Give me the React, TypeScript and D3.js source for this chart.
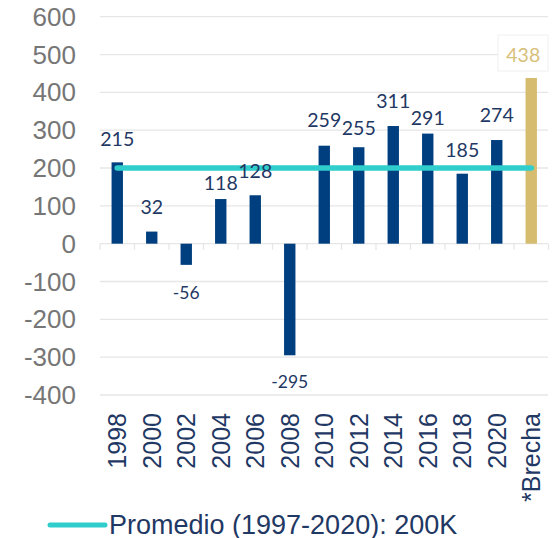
import React from 'react';
import * as d3 from 'd3';

const categories = ['1998', '2000', '2002', '2004', '2006', '2008', '2010', '2012', '2014', '2016', '2018', '2020', '*Brecha'];
const values = [215, 32, -56, 118, 128, -295, 259, 255, 311, 291, 185, 274, 438];
const average = 200;
const yTicks = [600, 500, 400, 300, 200, 100, 0, -100, -200, -300, -400];
const legendLabel = 'Promedio (1997-2020): 200K';

// how far each value label sits from the bar end (px), hand-tuned to the reference
const labelGap = [16, 18, 22, 9, 17, 20, 19, 12, 18, 9, 17, 18, 0];

const W = 553;
const H = 538;
const NAVY = '#003F7F';
const TEXT_NAVY = '#1F3864';
const GOLD = '#D5BC6E';
const TEAL = '#30CDCD';
const GRID = '#E6E6E6';

const App: React.FC = () => {
  const x = d3.scaleBand<string>().domain(categories).range([100, 548.5]).padding(0);
  const y = d3.scaleLinear().domain([-400, 600]).range([395, 16.7]);
  const bw = x.bandwidth() * 0.33;
  const cx = (c: string) => (x(c) as number) + x.bandwidth() / 2;
  const last = categories.length - 1;

  return (
    <svg width={W} height={H} style={{ position: 'absolute', left: 0, top: 0, background: '#fff' }}>
      {/* gridlines */}
      {yTicks.map(t => (
        <line key={t} x1={100} x2={548} y1={y(t)} y2={y(t)} stroke={GRID} strokeWidth={1.3} />
      ))}
      {/* category ticks below zero line */}
      {categories.concat(['end']).map((c, i) => {
        const xx = 100 + i * x.bandwidth();
        return <line key={'t' + i} x1={xx} x2={xx} y1={y(0)} y2={y(0) + 6} stroke={GRID} strokeWidth={1.3} />;
      })}

      {/* y labels */}
      {yTicks.map(t => (
        <text key={'y' + t} x={76} y={y(t)} dy="0.35em" textAnchor="end"
          style={{ fontFamily: 'Liberation Sans, Arial, sans-serif', fontSize: 26, fill: '#767676' }}>
          {t}
        </text>
      ))}

      {/* bars */}
      {categories.map((c, i) => {
        const v = values[i];
        return (
          <rect key={'b' + c} x={cx(c) - bw / 2} width={bw}
            y={Math.min(y(v), y(0))} height={Math.abs(y(v) - y(0))}
            fill={i === last ? GOLD : NAVY} />
        );
      })}

      {/* average line */}
      <line x1={cx(categories[0])} x2={cx(categories[last])} y1={y(average)} y2={y(average)}
        stroke={TEAL} strokeWidth={5.5} strokeLinecap="round" />

      {/* value labels */}
      {categories.slice(0, last).map((c, i) => {
        const v = values[i];
        const neg = v < 0;
        const yy = neg ? y(v) + labelGap[i] + 12.5 : y(v) - labelGap[i];
        return (
          <text key={'l' + c} x={cx(c)} y={yy} textAnchor="middle"
            style={{ fontFamily: 'Lato, sans-serif', fontSize: neg ? 17.5 : 19.5, fill: TEXT_NAVY }}>
            {v}
          </text>
        );
      })}

      {/* gap label in box */}
      <rect x={498} y={35} width={50} height={36} fill="#fff" stroke="#EFEFEF" strokeWidth={1} />
      <text x={cx(categories[last]) - 8} y={61.5} textAnchor="middle"
        style={{ fontFamily: 'Lato, sans-serif', fontSize: 19.5, fill: '#D8C07A' }}>
        {values[last]}
      </text>

      {/* x labels */}
      {categories.map(c => (
        <text key={'x' + c} transform={`translate(${cx(c) + 9},413) rotate(-90)`} textAnchor="end"
          style={{ fontFamily: 'Liberation Sans, Arial, sans-serif', fontSize: 25, fill: TEXT_NAVY }}>
          {c}
        </text>
      ))}

      {/* legend */}
      <line x1={50} x2={105} y1={525} y2={525} stroke={TEAL} strokeWidth={5} strokeLinecap="round" />
      <text x={109} y={533.5}
        style={{ fontFamily: 'Liberation Sans, Arial, sans-serif', fontSize: 27, fill: TEXT_NAVY }}>
        {legendLabel}
      </text>
    </svg>
  );
};

export default App;
